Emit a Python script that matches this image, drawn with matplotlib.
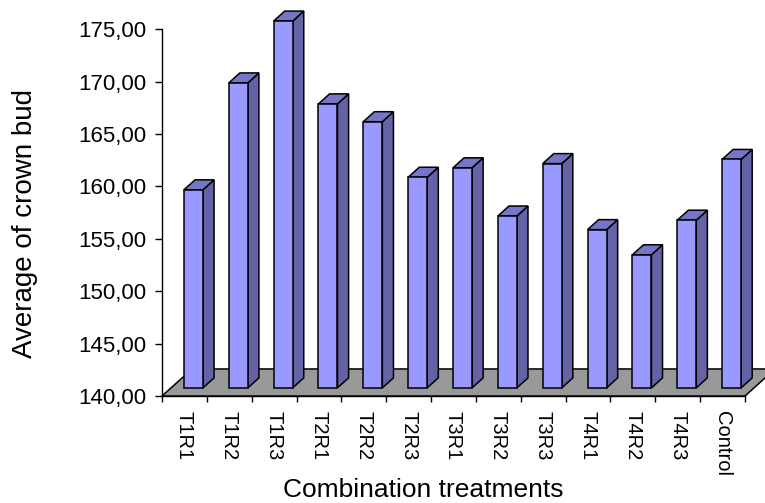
import matplotlib
matplotlib.use("Agg")
import matplotlib.pyplot as plt
from matplotlib.patches import Polygon
from matplotlib.ticker import FuncFormatter

plt.rcParams["font.family"] = ["Liberation Sans", "DejaVu Sans"]

treatments = ["T1R1", "T1R2", "T1R3", "T2R1", "T2R2", "T2R3", "T3R1",
              "T3R2", "T3R3", "T4R1", "T4R2", "T4R3", "Control"]
crown_bud = [158.9, 169.1, 175.0, 167.1, 165.4, 160.1, 161.0,
             156.4, 161.4, 155.1, 152.7, 156.0, 161.8]
y_ticks = [140, 145, 150, 155, 160, 165, 170, 175]

BASE = 140
FRONT = "#9999FF"
SIDE = "#6363A6"
TOP = "#7676C8"
FLOOR = "#999999"

# oblique depth of the floor, in data units (x: categories, y: values)
DEPTH_X = 0.67
DEPTH_Y = 2.58
BAR_W = 0.424
D_FRONT = 0.30
D_BACK = 0.67


def main():
    fig = plt.figure(figsize=(7.65, 5.03), dpi=100)
    ax = fig.add_axes([162 / 765, 107 / 503, 583 / 765, 366.8 / 503])
    n = len(treatments)
    ax.set_xlim(0, n)
    ax.set_ylim(BASE, 175)

    floor = Polygon([(0, BASE), (n, BASE), (n + DEPTH_X, BASE + DEPTH_Y),
                     (DEPTH_X, BASE + DEPTH_Y)], closed=True,
                    facecolor=FLOOR, edgecolor="black", linewidth=1.1,
                    clip_on=False, zorder=1)
    ax.add_patch(floor)

    fx, fy = D_FRONT * DEPTH_X, D_FRONT * DEPTH_Y
    bx, by = D_BACK * DEPTH_X, D_BACK * DEPTH_Y
    for i, v in enumerate(crown_bud):
        c = i + 0.5
        x0 = c - BAR_W / 2 + fx
        x1 = c + BAR_W / 2 + fx
        y0 = BASE + fy
        y1 = v + fy
        ddx, ddy = bx - fx, by - fy
        side = Polygon([(x1, y0), (x1 + ddx, y0 + ddy), (x1 + ddx, y1 + ddy), (x1, y1)],
                       facecolor=SIDE, edgecolor="black", linewidth=1.1,
                       clip_on=False, zorder=2)
        top = Polygon([(x0, y1), (x1, y1), (x1 + ddx, y1 + ddy), (x0 + ddx, y1 + ddy)],
                      facecolor=TOP, edgecolor="black", linewidth=1.1,
                      clip_on=False, zorder=2)
        front = Polygon([(x0, y0), (x1, y0), (x1, y1), (x0, y1)],
                        facecolor=FRONT, edgecolor="black", linewidth=1.1,
                        clip_on=False, zorder=3)
        for p in (side, top, front):
            ax.add_patch(p)

    for s in ("top", "right"):
        ax.spines[s].set_visible(False)
    ax.spines["left"].set_linewidth(1.0)
    ax.spines["bottom"].set_linewidth(1.0)
    ax.spines["bottom"].set_zorder(0)

    ax.set_yticks(y_ticks)
    ax.yaxis.set_major_formatter(FuncFormatter(lambda v, p: f"{v:.2f}".replace(".", ",")))
    ax.tick_params(axis="y", direction="out", length=5, width=1.0, pad=6, labelsize=16)

    ax.set_xticks(range(n + 1))
    ax.set_xticklabels([])
    ax.set_xticks([i + 0.5 for i in range(n)], minor=True)
    ax.set_xticklabels(treatments, minor=True, rotation=270, va="top", ha="center")
    ax.tick_params(axis="x", which="major", direction="out", length=4, width=1.0)
    ax.tick_params(axis="x", which="minor", length=0, pad=11, labelsize=14.5)

    fig.text(25 / 765, 1 - 224 / 503, "Average of crown bud", rotation=90,
             ha="center", va="center", fontsize=20)
    fig.text(423 / 765, 6 / 503, "Combination treatments",
             ha="center", va="baseline", fontsize=19)

    fig.savefig("out.png", dpi=100)


if __name__ == "__main__":
    main()
